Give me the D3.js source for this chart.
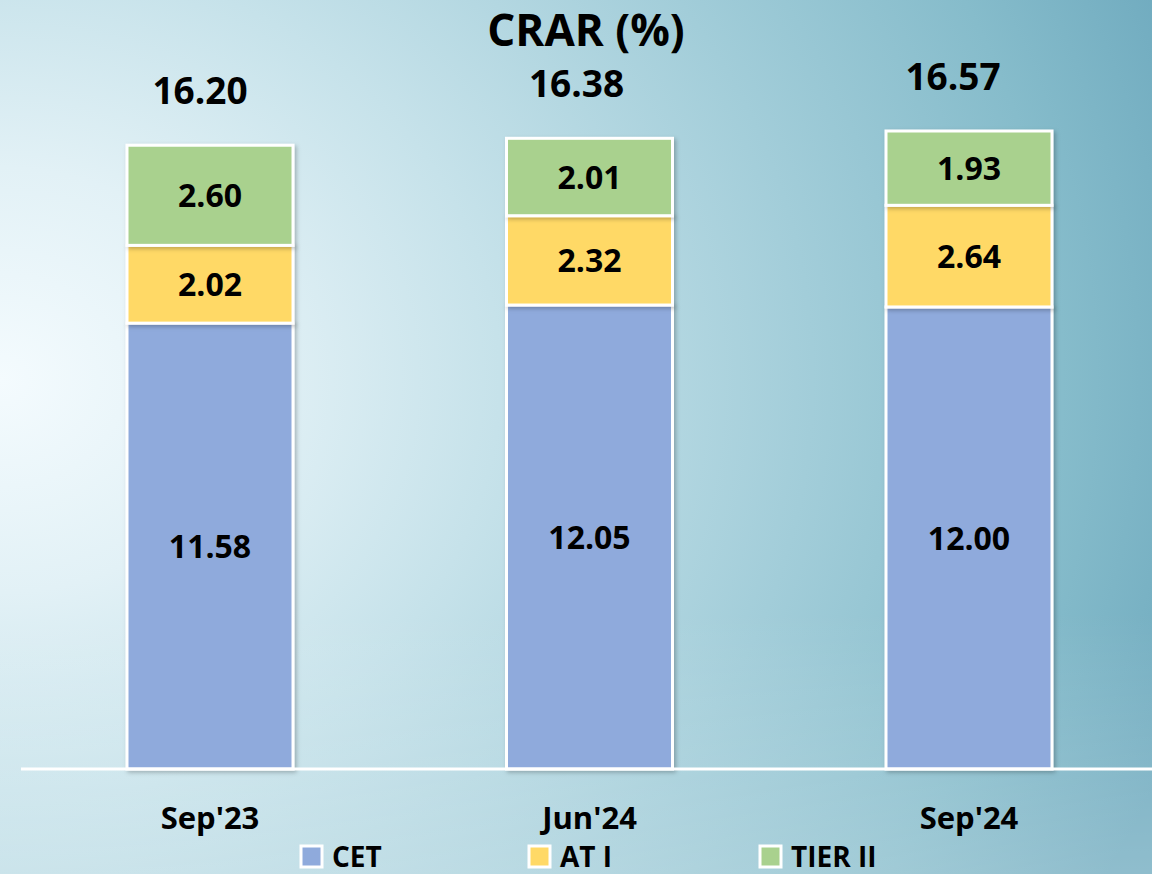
<!DOCTYPE html>
<html>
<head>
<meta charset="utf-8">
<script src="https://cdn.jsdelivr.net/npm/d3@7"></script>
<style>
  html, body { margin: 0; padding: 0; }
  body { width: 1152px; height: 874px; overflow: hidden; }
  text { font-family: "Open Sans", "DejaVu Sans", sans-serif; font-weight: 700; fill: #000; }
</style>
</head>
<body>
<div id="chart"></div>
<script>
// data
const categories = ["Sep'23", "Jun'24", "Sep'24"];
const seriesNames = ["CET", "AT I", "TIER II"];
const cet = [11.58, 12.05, 12.00];
const at1 = [2.02, 2.32, 2.64];
const tier2 = [2.60, 2.01, 1.93];
const totals = ["16.20", "16.38", "16.57"];

const colors = ["#8faadc", "#ffd966", "#a9d18e"];

const width = 1152;
const height = 874;
const baseY = 769;

const svg = d3.select("#chart")
  .append("svg")
  .attr("width", width)
  .attr("height", height);

const defs = svg.append("defs");

// background gradient
const bg = defs.append("radialGradient")
  .attr("id", "bg")
  .attr("gradientUnits", "userSpaceOnUse")
  .attr("cx", 0).attr("cy", 380).attr("r", 1250)
  .attr("gradientTransform", "translate(0,380) scale(1,0.85) translate(0,-380)");
[["0%", "#f4fbfe"], ["20%", "#e2f1f6"], ["40%", "#c6e2ea"], ["65%", "#a2cdd9"], ["85%", "#86bccb"], ["100%", "#70abbf"]]
  .forEach(s => bg.append("stop").attr("offset", s[0]).attr("stop-color", s[1]));

const bottomGlow = defs.append("linearGradient")
  .attr("id", "bottomGlow")
  .attr("x1", 0).attr("y1", 0).attr("x2", 0).attr("y2", 1);
bottomGlow.append("stop").attr("offset", "0%").attr("stop-color", "#ffffff").attr("stop-opacity", 0);
bottomGlow.append("stop").attr("offset", "70%").attr("stop-color", "#ffffff").attr("stop-opacity", 0);
bottomGlow.append("stop").attr("offset", "100%").attr("stop-color", "#ffffff").attr("stop-opacity", 0.22);

const shadow = defs.append("filter")
  .attr("id", "shadow")
  .attr("x", "-10%").attr("y", "-10%").attr("width", "130%").attr("height", "130%");
shadow.append("feDropShadow")
  .attr("dx", 2).attr("dy", 2).attr("stdDeviation", 2)
  .attr("flood-color", "#000").attr("flood-opacity", 0.25);

svg.append("rect").attr("width", width).attr("height", height).attr("fill", "url(#bg)");
svg.append("rect").attr("width", width).attr("height", height).attr("fill", "url(#bottomGlow)");

// scales
const x = d3.scalePoint()
  .domain(categories)
  .range([210, 969]);

// total labels sit a little left of the bar centres
const xTotal = d3.scalePoint()
  .domain(categories)
  .range([200, 953]);

const barWidth = 166;

const y = d3.scaleLinear()
  .domain([0, 16.57])
  .range([baseY, 131]);

const rows = categories.map((c, i) => ({ cat: c, CET: cet[i], "AT I": at1[i], "TIER II": tier2[i] }));
const stack = d3.stack().keys(seriesNames)(rows);

// title
svg.append("text")
  .attr("x", 586)
  .attr("y", 46)
  .attr("text-anchor", "middle")
  .style("font-size", "44px")
  .text("CRAR (%)");

// bars
const layers = svg.append("g")
  .selectAll("g")
  .data(stack)
  .join("g")
  .attr("fill", (d, i) => colors[i]);

layers.selectAll("rect")
  .data(d => d)
  .join("rect")
  .attr("x", d => x(d.data.cat) - barWidth / 2)
  .attr("y", d => y(d[1]))
  .attr("width", barWidth)
  .attr("height", d => y(d[0]) - y(d[1]))
  .attr("stroke", "#fff")
  .attr("stroke-width", 3)
  .attr("filter", "url(#shadow)");

// segment labels
layers.selectAll("text")
  .data(d => d.map(v => ({ v, key: d.key })))
  .join("text")
  .attr("x", d => x(d.v.data.cat))
  .attr("y", d => (y(d.v[0]) + y(d.v[1])) / 2)
  .attr("dy", "0.36em")
  .attr("text-anchor", "middle")
  .style("font-size", "32px")
  .text(d => d.v.data[d.key].toFixed(2));

// totals
svg.append("g")
  .selectAll("text")
  .data(categories)
  .join("text")
  .attr("x", d => xTotal(d))
  .attr("y", (d, i) => y(cet[i] + at1[i] + tier2[i]) - 41)
  .attr("text-anchor", "middle")
  .style("font-size", "37px")
  .text((d, i) => totals[i]);

// baseline
svg.append("line")
  .attr("x1", 21).attr("x2", width)
  .attr("y1", baseY).attr("y2", baseY)
  .attr("stroke", "#fff")
  .attr("stroke-width", 3);

// category labels
svg.append("g")
  .selectAll("text")
  .data(categories)
  .join("text")
  .attr("x", d => x(d))
  .attr("y", 829)
  .attr("text-anchor", "middle")
  .style("font-size", "31px")
  .text(d => d);

// legend
const legendX = [301, 529, 760];
const legend = svg.append("g")
  .selectAll("g")
  .data(seriesNames)
  .join("g")
  .attr("transform", (d, i) => `translate(${legendX[i]},846)`);

legend.append("rect")
  .attr("width", 21)
  .attr("height", 21)
  .attr("fill", (d, i) => colors[i])
  .attr("stroke", "#fff")
  .attr("stroke-width", 3);

legend.append("text")
  .attr("x", 31)
  .attr("y", 21)
  .style("font-size", "28px")
  .text(d => d);
</script>
</body>
</html>
